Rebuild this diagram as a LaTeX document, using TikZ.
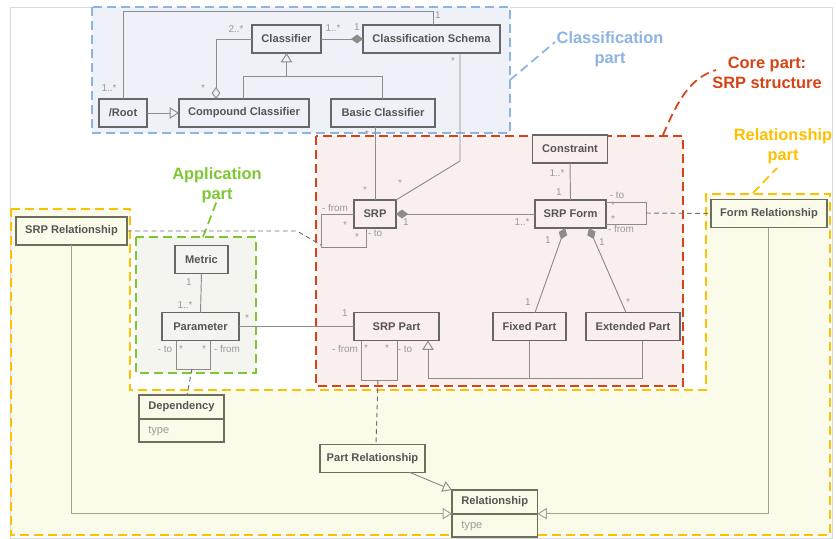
\documentclass[tikz,border=0pt]{standalone}
\usepackage{fontspec}
\setmainfont{Liberation Sans}
\usetikzlibrary{arrows.meta, shapes.multipart}

\definecolor{framegrey}{HTML}{DADADA}
\definecolor{boxline}{HTML}{676767}
\definecolor{boxtext}{HTML}{555555}
\definecolor{relbox}{HTML}{6E6E5C}
\definecolor{linkgrey}{HTML}{8C8C8C}
\definecolor{rellinecol}{HTML}{A3A38E}
\definecolor{assocgrey}{HTML}{707070}
\definecolor{labelgrey}{HTML}{9A9A9A}
\definecolor{clsblue}{HTML}{8DB4E2}
\definecolor{clsfill}{HTML}{EEF1F8}
\definecolor{corered}{HTML}{D84315}
\definecolor{corefill}{HTML}{F9EFEF}
\definecolor{relyellow}{HTML}{FFC000}
\definecolor{relfill}{HTML}{FBFBEA}
\definecolor{appgreen}{HTML}{7DC832}
\definecolor{appfill}{HTML}{F4F5EF}

\tikzset{
  partbox/.style={line width=1.7pt, dash pattern=on 2.7mm off 1.5mm},
  partlabel/.style={font=\bfseries\fontsize{14}{17}\selectfont, align=center, inner sep=0pt},
  cls/.style={draw=boxline, fill=corefill, line width=1.5pt, text=boxtext,
    font=\bfseries\fontsize{9.5}{11.5}\selectfont, minimum height=8.4mm, inner sep=1pt, outer sep=0pt},
  relcls/.style={cls, draw=relbox, fill=relfill},
  relsplit/.style={relcls, rectangle split, rectangle split parts=2,
    rectangle split part align=left, inner xsep=2.8mm, inner ysep=3.6pt, minimum height=0pt},
  mult/.style={text=labelgrey, font=\fontsize{8.5}{10}\selectfont, inner sep=0pt},
  link/.style={draw=linkgrey, line width=0.8pt},
  rellink/.style={link, draw=rellinecol},
  assoc/.style={draw=assocgrey, line width=0.8pt, dash pattern=on 4pt off 3pt},
  gen/.style={-{Triangle[open, length=2.8mm, width=3.4mm]}},
  agg/.style={{Diamond[open, length=3.6mm, width=2.6mm]}-},
  compo/.style={{Diamond[length=3.6mm, width=2.7mm]}-}
}

\begin{document}
\begin{tikzpicture}[x=0.3mm, y=-0.3mm]
\useasboundingbox (0,0) rectangle (836,538);
\fill[white] (0,0) rectangle (836,538);
\draw[framegrey, line width=0.4pt] (10,7) rectangle (832,538);

% the four parts
\draw[partbox, draw=clsblue, fill=clsfill] (92,7) rectangle (510,133);
\draw[partbox, draw=relyellow, fill=relfill] (11,209) -- (130,209) -- (130,390) -- (706,390)
  -- (706,194) -- (830,194) -- (830,535) -- (11,535) -- cycle;
\draw[partbox, draw=appgreen, fill=appfill] (136,237) rectangle (256,373);
\draw[partbox, draw=corered, fill=corefill] (316,136) rectangle (683,386);

\node[partlabel, text=clsblue] (clslabel) at (610,49) {Classification\\part};
\node[partlabel, text=corered] (corelabel) at (767,73) {Core part:\\SRP structure};
\node[partlabel, text=relyellow] (rellabel) at (783,146) {Relationship\\part};
\node[partlabel, text=appgreen] (applabel) at (217,185) {Application\\part};

\coordinate (clsedge) at (510,80);   \coordinate (clstip) at (555,42);
\coordinate (coreedge) at (663,135); \coordinate (coretip) at (716,70);
\coordinate (reledge) at (753,193);  \coordinate (reltip) at (777,168);
\coordinate (appedge) at (203,237);  \coordinate (apptip) at (218,198);
\draw[partbox, line width=1.5pt, draw=clsblue] (clsedge) -- (clstip);
\draw[partbox, line width=1.5pt, draw=corered] (coreedge) .. controls (678,100) and (690,78) .. (coretip);
\draw[partbox, line width=1.5pt, draw=relyellow] (reledge) -- (reltip);
\draw[partbox, line width=1.5pt, draw=appgreen] (appedge) -- (apptip);

% classes
\node[cls, fill=clsfill, minimum width=20.7mm] (classifier) at (286.5,39) {Classifier};
\node[cls, fill=clsfill, minimum width=41.1mm] (schema) at (431.5,39) {Classification Schema};
\node[cls, fill=clsfill, minimum width=14.4mm] (root) at (123,113) {/Root};
\node[cls, fill=clsfill, minimum width=39mm] (compound) at (244,113) {Compound Classifier};
\node[cls, fill=clsfill, minimum width=31.2mm] (basic) at (383,113) {Basic Classifier};
\node[cls, minimum width=22.5mm] (constraint) at (570,149) {Constraint};
\node[cls, minimum width=21.3mm] (form) at (570.5,214) {SRP Form};
\node[cls, minimum width=12.6mm] (srp) at (375,214) {SRP};
\node[cls, minimum width=25.5mm] (part) at (396.5,326.5) {SRP Part};
\node[cls, minimum width=21.9mm] (fixed) at (529.5,326.5) {Fixed Part};
\node[cls, minimum width=28.2mm] (ext) at (633,326.5) {Extended Part};
\node[cls, fill=appfill, minimum width=15.9mm] (metric) at (201.5,259.5) {Metric};
\node[cls, fill=appfill, minimum width=23.1mm] (param) at (200.5,326.5) {Parameter};
\node[relcls, minimum width=34.8mm] (formrel) at (769,213.5) {Form Relationship};
\node[relcls, minimum width=33.3mm] (srprel) at (71.5,231) {SRP Relationship};
\node[relcls, minimum width=31.5mm] (partrel) at (372.5,458.5) {Part Relationship};
\node[relsplit, minimum width=25.5mm, anchor=north west] (dep) at (139,395)
  {\strut Dependency\nodepart{two}\strut{\mdseries\color{labelgrey}type}};
\node[relsplit, minimum width=25.5mm, anchor=north west] (rel) at (452,490)
  {\strut Relationship\nodepart{two}\strut{\mdseries\color{labelgrey}type}};

% classification part
\draw[link] (root.north) -- (root.north |- 0,11) -| (schema.north -| 433,0);
\draw[link, gen] (root.east) -- (compound.west);
\draw[link, agg] (compound.north -| 216,0) |- (classifier.west);
\draw[link] (compound.north -| 243,0) |- (382,76) -- (basic.north -| 382,0);
\draw[link, gen] (classifier.south |- 0,76) -- (classifier.south);
\draw[link, compo] (schema.west) -- (classifier.east);

% core part
\draw[link] (basic.south -| srp.north) -- (srp.north);
\draw[link] (schema.south -| 460,0) -- (460,161) -- (srp.north east);
\draw[link, compo] (srp.east) -- (form.west);
\draw[link] (srp.west) -- (321,214) |- (366,247) -- (srp.south -| 366,0);
\draw[link] (constraint.south) -- (form.north);
\draw[link] (form.east |- 0,202) -- (646,202) -- (646,224) -- (form.east |- 0,224);
\draw[link, compo] (form.south -| 565,0) -- (fixed.north -| 535,0);
\draw[link, compo] (form.south -| 589,0) -- (ext.north -| 626,0);
\draw[link] (ext.south -| 642,0) |- (428,378);
\draw[link] (fixed.south) -- (fixed.south |- 0,378);
\draw[link, gen] (428,378) -- (part.south -| 428,0);
\draw[link] (part.south -| 361,0) |- (397,380) -- (part.south -| 397,0);

% application part
\draw[link] (metric.south) -- (param.north);
\draw[link] (param.east) -- (part.west);
\draw[link] (param.south -| 176,0) |- (210,369) -- (param.south -| 210,0);

% relationship part
\coordinate (srploop) at (321,245);
\coordinate (formloop) at (646,213);
\coordinate (paramloop) at (192,369);
\coordinate (partloop) at (378,380);
\draw[assoc] (srprel.east) -- (297,231) -- (srploop);
\draw[assoc] (formloop) -- (formrel.west);
\draw[assoc] (paramloop) -- (dep.north -| 187,0);
\draw[assoc] (partloop) -- (partrel.north -| 376,0);
\draw[rellink, gen] (srprel.south) |- (rel.west);
\draw[rellink, gen] (formrel.south -| 768,0) |- (rel.east);
\draw[link, gen] (partrel.south -| 410,0) -- (rel.north west);

% multiplicities and roles
\foreach \x/\y/\t [count=\i] in {
  109/88/1..*, 438/15/1, 203/88/*, 236/29/2..*, 333/28/1..*, 357/27/1,
  453/61/*, 367/134/*, 365/190/*, 400/183/*, 406/222/1, 522/222/1..*,
  335/208/- from, 345/225/*, 357/237/*, 375/233/- to,
  557/173/1..*, 559/192/1, 617/195/- to, 613/205/*, 613/219/*, 621/229/- from,
  548/240/1, 602/242/1, 528/302/1, 628/302/*,
  189/282/1, 185/305/1..*, 247/318/*, 345/313/1,
  165/349/- to, 181/349/*, 204/349/*, 227/349/- from,
  345/349/- from, 366/348/*, 387/348/*, 405/349/- to}
  \node[mult] (mult\i) at (\x,\y) {\t};

\end{tikzpicture}
\end{document}
